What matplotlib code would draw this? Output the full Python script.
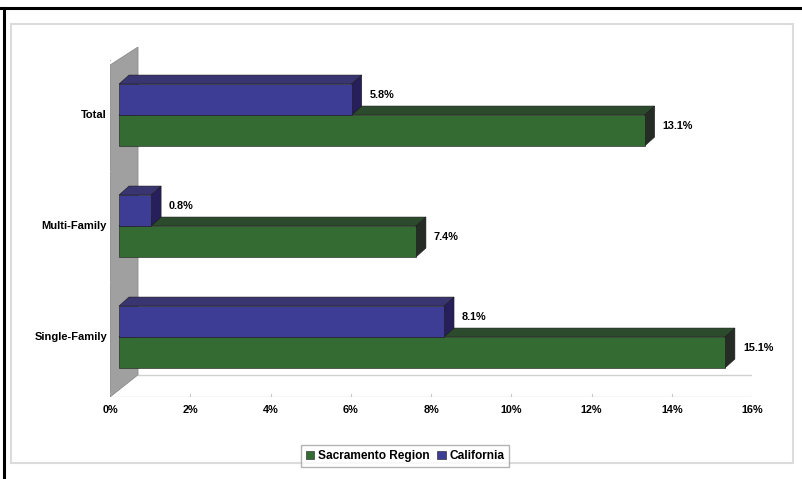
import matplotlib.pyplot as plt
from matplotlib.patches import Polygon, Rectangle
from matplotlib.lines import Line2D

# data
categories = ["Single-Family", "Multi-Family", "Total"]
sacramento = [15.1, 7.4, 13.1]
california = [8.1, 0.8, 5.8]
xticks = [0, 2, 4, 6, 8, 10, 12, 14, 16]
xticklabels = ["0%", "2%", "4%", "6%", "8%", "10%", "12%", "14%", "16%"]

green_front = "#336b33"
green_top = "#2c4a2c"
green_side = "#252b25"
blue_front = "#3d3d96"
blue_top = "#393570"
blue_side = "#261f5c"

W, H = 802, 479
fig = plt.figure(figsize=(W / 100, H / 100), dpi=100)
plt.rcParams['font.family'] = ['Liberation Sans', 'DejaVu Sans']

# axes placed in pixels: x 110..752, y 47..397 (from top)
ax = fig.add_axes([110 / W, 1 - 397 / H, 642 / W, 350 / H])
ax.set_xlim(0, 16)
ax.set_ylim(-0.54, 2.613)
ax.axis("off")

px_x = 16 / 642.0   # data units per pixel in x
px_y = 3.153 / 350.0  # data units per pixel in y

# side wall
wx = 28 * px_x
ax.add_patch(Polygon([(0, -0.54), (0, 2.45), (wx, 2.613), (wx, -0.34)],
                     closed=True, facecolor="#a0a0a0", edgecolor="#8c8c8c",
                     lw=0.6, zorder=1))
# floor edges
ax.add_line(Line2D([wx, 16], [-0.34, -0.34], color="#d0d0d0", lw=1, zorder=0))
ax.add_line(Line2D([0, 16], [-0.54, -0.54], color="#dadada", lw=1, zorder=0))
for t in xticks:
    ax.add_line(Line2D([t, t], [-0.54, -0.51], color="#c8c8c8", lw=0.8, zorder=0))

bh = 31 * px_y
dx = 10 * px_x
dy = 9 * px_y
x0 = 9 * px_x


def bar3d(v, ybot, front, top, side, z):
    x1 = x0 + v
    yt = ybot + bh
    ax.add_patch(Polygon([(x0, yt), (x1, yt), (x1 + dx, yt + dy), (x0 + dx, yt + dy)],
                         closed=True, facecolor=top, edgecolor="#1a1a1a", lw=0.4, zorder=z))
    ax.add_patch(Polygon([(x1, ybot), (x1, yt), (x1 + dx, yt + dy), (x1 + dx, ybot + dy)],
                         closed=True, facecolor=side, edgecolor="#1a1a1a", lw=0.4, zorder=z))
    ax.add_patch(Rectangle((x0, ybot), v, bh, facecolor=front,
                           edgecolor="#1a1a1a", lw=0.4, zorder=z))
    ax.text(x1 + dx + 8 * px_x, ybot + (bh + dy) / 2, f"{v:.1f}%",
            fontsize=7.8, fontweight="bold", va="center", ha="left", zorder=10)


for i, cat in enumerate(categories):
    bar3d(sacramento[i], i - bh, green_front, green_top, green_side, 2 + 2 * (2 - i))
    bar3d(california[i], i, blue_front, blue_top, blue_side, 3 + 2 * (2 - i))
    ax.text(-3 * px_x, i, cat, fontsize=8, fontweight="bold", ha="right", va="center")

# category tick marks on the wall
for yt in [-0.5, 0.5, 1.5, 2.5]:
    ax.add_line(Line2D([-4 * px_x, 0], [yt, yt], color="#b0b0b0", lw=0.8, zorder=1))

for t, lab in zip(xticks, xticklabels):
    ax.text(t, -0.54 - 13 * px_y, lab, fontsize=7.8, fontweight="bold",
            ha="center", va="center")

# legend
handles = [Rectangle((0, 0), 1, 1, facecolor=green_front, edgecolor="#1a1a1a", lw=0.4),
           Rectangle((0, 0), 1, 1, facecolor=blue_front, edgecolor="#1a1a1a", lw=0.4)]
fig.legend(handles, ["Sacramento Region", "California"], loc="center",
           bbox_to_anchor=(405 / W, 1 - 456 / H), ncol=2,
           prop={"weight": "bold", "size": 8.6}, frameon=True, fancybox=False,
           edgecolor="#a0a0a0", handlelength=0.7, handleheight=0.7,
           handletextpad=0.3, columnspacing=0.7, borderpad=0.4)

# frame lines
fig.add_artist(Line2D([0, 1], [1 - 8 / H, 1 - 8 / H], color="black", lw=2.2,
                      transform=fig.transFigure))
fig.add_artist(Line2D([4 / W, 4 / W], [0, 1 - 8 / H], color="black", lw=2.2,
                      transform=fig.transFigure))
fig.add_artist(Rectangle((11 / W, 1 - 463 / H), 782 / W, 439 / H, fill=False,
                         edgecolor="#dcdcdc", lw=1.5, transform=fig.transFigure))

fig.savefig("out.png", dpi=100)
